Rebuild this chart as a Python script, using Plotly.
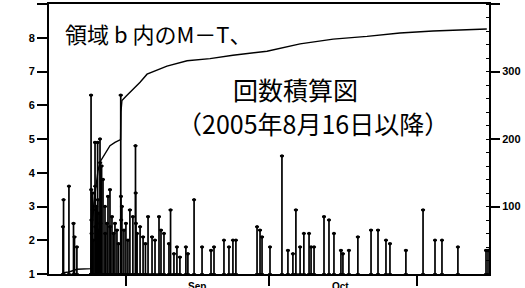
import plotly.graph_objects as go

# ---- events (date, magnitude) ----
event_dates = [
    "2005-08-18 22:00", "2005-08-19 01:00", "2005-08-20 04:00", "2005-08-21 03:00",
    "2005-08-21 08:00", "2005-08-21 20:00",
    "2005-08-24 19:00", "2005-08-24 20:00", "2005-08-24 21:00", "2005-08-24 22:00",
    "2005-08-25 03:00", "2005-08-25 04:00", "2005-08-25 05:00",
    "2005-08-25 15:00", "2005-08-25 16:00", "2005-08-25 17:00", "2005-08-25 21:00",
    "2005-08-26 04:00", "2005-08-26 05:00", "2005-08-26 06:00", "2005-08-26 11:00",
    "2005-08-26 16:00", "2005-08-26 17:00", "2005-08-26 18:00", "2005-08-27 00:00",
    "2005-08-27 07:00", "2005-08-27 17:00", "2005-08-27 18:00", "2005-08-28 03:00",
    "2005-08-28 08:00", "2005-08-28 18:00", "2005-08-28 19:00", "2005-08-29 04:00",
    "2005-08-29 12:00", "2005-08-29 19:00", "2005-08-30 05:00", "2005-08-30 13:00",
    "2005-08-31 00:00", "2005-08-31 01:00", "2005-08-31 02:00", "2005-08-31 06:00",
    "2005-08-31 16:00", "2005-09-01 02:00", "2005-09-01 12:00", "2005-09-01 22:00",
    "2005-09-02 13:00", "2005-09-03 02:00", "2005-09-03 03:00", "2005-09-03 04:00",
    "2005-09-03 10:00", "2005-09-04 01:00", "2005-09-04 16:00", "2005-09-05 04:00",
    "2005-09-05 17:00", "2005-09-06 13:00", "2005-09-07 04:00", "2005-09-08 00:00",
    "2005-09-08 10:00", "2005-09-09 01:00", "2005-09-10 02:00", "2005-09-10 10:00",
    "2005-09-11 03:00", "2005-09-11 18:00", "2005-09-12 09:00", "2005-09-13 15:00",
    "2005-09-14 01:00", "2005-09-15 08:00", "2005-09-17 00:00", "2005-09-18 21:00",
    "2005-09-19 12:00", "2005-09-21 14:00", "2005-09-22 15:00", "2005-09-23 11:00",
    "2005-09-24 02:00", "2005-09-28 12:00", "2005-09-29 03:00", "2005-09-29 13:00",
    "2005-10-01 05:00", "2005-10-03 17:00", "2005-10-04 23:00", "2005-10-06 00:00",
    "2005-10-06 15:00", "2005-10-07 12:00", "2005-10-08 07:00", "2005-10-09 09:00",
    "2005-10-09 19:00", "2005-10-10 10:00", "2005-10-12 12:00", "2005-10-13 13:00",
    "2005-10-14 14:00", "2005-10-16 01:00", "2005-10-16 11:00", "2005-10-17 17:00",
    "2005-10-19 14:00", "2005-10-22 08:00", "2005-10-23 19:00", "2005-10-25 11:00",
    "2005-10-26 07:00", "2005-10-29 15:00", "2005-11-02 05:00", "2005-11-04 17:00",
    "2005-11-06 04:00", "2005-11-09 12:00", "2005-11-15 09:00", "2005-11-15 19:00",
]
event_mags = [
    2.4, 3.2, 3.6, 2.5,
    2.1, 1.8,
    6.3, 3.5, 2.6, 2.2,
    3.4, 2.9, 2.0,
    4.9, 3.6, 2.4, 3.0,
    4.9, 3.2, 2.3, 2.8,
    5.0, 4.3, 2.5, 4.2,
    3.8, 3.0, 2.2, 2.5,
    3.3, 3.5, 2.4, 2.7,
    2.2, 2.5, 2.3, 1.9,
    6.3, 3.3, 2.6, 3.0,
    2.3, 2.5, 2.0, 2.9,
    2.7, 4.8, 3.4, 2.5,
    2.2, 2.4, 2.1, 1.9,
    2.7, 2.1, 2.0, 2.7,
    2.3, 2.2, 1.9, 2.9,
    1.6, 1.8, 1.5, 1.8,
    1.6, 3.2, 1.8, 1.7,
    1.8, 2.0, 1.8, 2.0,
    2.0, 2.4, 2.3, 2.1,
    1.8, 4.5, 1.7, 1.6,
    2.9, 1.8, 2.2, 2.2,
    1.8, 1.8, 2.7, 2.6,
    2.2, 1.7, 1.6, 1.7,
    2.1, 2.3, 2.3, 2.0,
    1.9, 1.7, 2.9, 2.0,
    2.0, 1.8, 1.7, 1.7,
]

# ---- cumulative number of events (right axis) ----
cum_dates = [
    "2005-08-18 22:00", "2005-08-19 01:00", "2005-08-20 04:00", "2005-08-21 03:00",
    "2005-08-21 20:00", "2005-08-24 19:00", "2005-08-25 00:00", "2005-08-25 09:00",
    "2005-08-25 19:00", "2005-08-26 06:00", "2005-08-26 16:00", "2005-08-27 17:00",
    "2005-08-28 18:00", "2005-08-29 19:00", "2005-08-30 23:00", "2005-08-31 01:00",
    "2005-08-31 06:00", "2005-09-01 05:00", "2005-09-02 13:00", "2005-09-04 01:00",
    "2005-09-05 12:00", "2005-09-09 16:00", "2005-09-13 21:00", "2005-09-18 16:00",
    "2005-09-23 11:00", "2005-09-30 14:00", "2005-10-07 12:00", "2005-10-14 10:00",
    "2005-10-21 12:00", "2005-10-28 09:00", "2005-11-04 07:00", "2005-11-15 13:00",
]
cum_counts = [
    1, 2, 3, 5,
    7, 8, 60, 105,
    132, 153, 166, 178,
    190, 195, 199, 240,
    257, 264, 273, 284,
    296, 308, 316, 319,
    324, 330, 341, 348,
    352, 357, 360, 363,
]

m_ticks = [1, 2, 3, 4, 5, 6, 7, 8, 9]
n_ticks = [100, 200, 300, 400]
month_ticks = ["2005-09-01", "2005-10-01", "2005-11-01"]
month_labels = ["Sep", "Oct"]
month_label_pos = ["2005-09-16", "2005-10-16"]

fig = go.Figure()

fig.add_trace(go.Scatter(
    x=event_dates, y=event_mags, mode="markers",
    marker=dict(size=3.5, color="black"),
    error_y=dict(type="data", symmetric=False,
                 array=[0] * len(event_mags),
                 arrayminus=[m - 1 for m in event_mags],
                 width=2, thickness=1.7, color="black"),
    showlegend=False, hoverinfo="skip",
))

fig.add_trace(go.Scatter(
    x=cum_dates, y=cum_counts, mode="lines", yaxis="y2",
    line=dict(color="black", width=1.4),
    showlegend=False, hoverinfo="skip",
))

tick_font = dict(family="Liberation Sans, Arial, sans-serif", size=11, color="black", weight="bold")

fig.update_layout(
    width=525, height=288,
    margin=dict(l=49, r=36, t=2, b=14),
    paper_bgcolor="white", plot_bgcolor="white",
    xaxis=dict(
        type="date", range=["2005-08-16", "2005-11-16"],
        tickvals=month_ticks, ticktext=["", "", ""],
        ticks="outside", ticklen=10, tickwidth=1.5, tickcolor="black",
        showline=True, linewidth=2, linecolor="black", mirror=True,
        showgrid=False, zeroline=False,
    ),
    yaxis=dict(
        range=[1, 9], tickvals=m_ticks,
        ticks="outside", ticklen=10, tickwidth=1.5, tickcolor="black",
        showline=True, linewidth=2, linecolor="black",
        showgrid=False, zeroline=False, tickfont=tick_font,
    ),
    yaxis2=dict(
        overlaying="y", side="right", range=[0, 400], tickvals=n_ticks,
        ticks="outside", ticklen=9, tickwidth=1.5, tickcolor="black",
        showline=True, linewidth=2, linecolor="black",
        showgrid=False, zeroline=False, tickfont=tick_font,
        minor=dict(ticks="inside", ticklen=3, dtick=20, tickcolor="black", tickwidth=1),
    ),
)

for lab, pos in zip(month_labels, month_label_pos):
    fig.add_annotation(
        x=pos, xref="x", y=0, yref="paper", yanchor="top", yshift=-5,
        text=lab, showarrow=False,
        font=dict(family="Liberation Sans, Arial, sans-serif", size=10, color="black", weight="bold"),
    )

jp = "Noto Sans CJK JP"
fig.add_annotation(
    x=0.032, xref="paper", xanchor="left", y=0.893, yref="paper", yanchor="middle",
    text="領域 b 内のM－T、", showarrow=False,
    font=dict(family=jp, size=22, color="black"),
)
fig.add_annotation(
    x=0.561, xref="paper", xanchor="center", y=0.685, yref="paper", yanchor="middle",
    text="回数積算図", showarrow=False,
    font=dict(family=jp, size=25, color="black"),
)
fig.add_annotation(
    x=0.6, xref="paper", xanchor="center", y=0.56, yref="paper", yanchor="middle",
    text="（2005年8月16日以降）", showarrow=False,
    font=dict(family=jp, size=25, color="black"),
)

fig.write_html("out.html", config={"displayModeBar": False},
               post_script="document.body.style.margin='0px';document.body.style.padding='0px';")
